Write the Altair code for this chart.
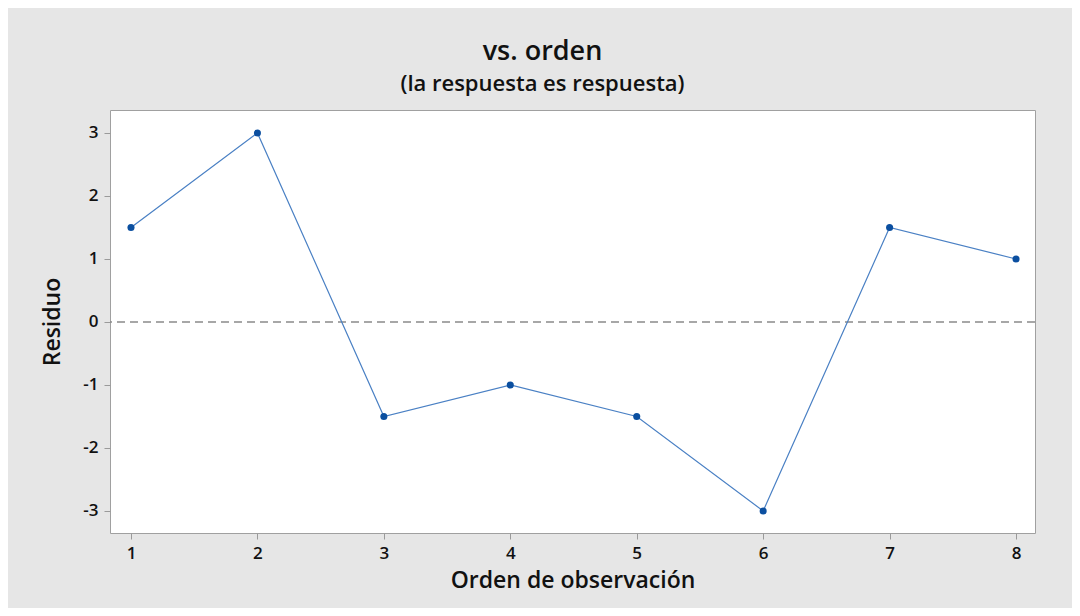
import altair as alt
import pandas as pd

orden = [1, 2, 3, 4, 5, 6, 7, 8]
residuo = [1.5, 3.0, -1.5, -1.0, -1.5, -3.0, 1.5, 1.0]
x_ticks = [1, 2, 3, 4, 5, 6, 7, 8]
y_ticks = [-3, -2, -1, 0, 1, 2, 3]
ref_y = [0]

df = pd.DataFrame({"orden": orden, "residuo": residuo})
ref = pd.DataFrame({"y": ref_y})

FONT = "Open Sans"

xs = alt.Scale(domain=[0.834, 8.15], nice=False, zero=False)
ys = alt.Scale(domain=[-3.35, 3.365], nice=False, zero=False)

common_axis = dict(grid=False, domain=False, tickColor="#9a9a9a", tickSize=6,
                   labelFontSize=17, labelFontWeight=600, labelColor="#111", labelPadding=6,
                   titleFontSize=23, titleFontWeight=600, titleColor="#111",
                   labelFont=FONT, titleFont=FONT,
                   labelExpr="replace(format(datum.value, 'd'), '\u2212', '-')")

x_axis = alt.Axis(title="Orden de observación", values=x_ticks, titlePadding=8, **common_axis)
y_axis = alt.Axis(title="Residuo", values=y_ticks, titlePadding=18, **common_axis)

rule = alt.Chart(ref).mark_rule(color="#8a8a8a", strokeDash=[8, 5], strokeWidth=1.5).encode(
    y=alt.Y("y:Q", scale=ys, axis=y_axis)
)

line = alt.Chart(df).mark_line(color="#4a80c4", strokeWidth=1.2).encode(
    x=alt.X("orden:Q", scale=xs, axis=x_axis),
    y=alt.Y("residuo:Q", scale=ys, axis=y_axis),
)
pts = alt.Chart(df).mark_point(filled=True, color="#0b4fa0", size=50, opacity=1).encode(
    x=alt.X("orden:Q", scale=xs, axis=x_axis),
    y=alt.Y("residuo:Q", scale=ys, axis=y_axis),
)

chart = alt.layer(rule, line, pts).properties(
    width=925, height=423,
    autosize=alt.AutoSizeParams(type="none"),
    padding={"left": 102, "top": 102, "right": 37, "bottom": 75},
    background="#e6e6e6",
    title=alt.TitleParams(
        text="vs. orden",
        subtitle="(la respuesta es respuesta)",
        anchor="middle", frame="group", dx=-30, offset=14,
        font=FONT, fontSize=27, fontWeight=600, color="#111",
        subtitleFont=FONT, subtitleFontSize=22, subtitleFontWeight=600, subtitleColor="#111",
        subtitlePadding=8,
    ),
).configure_view(stroke="#a0a0a0", strokeWidth=1, fill="white")

chart.save("out.html", embed_options={"renderer": "svg", "actions": False})
